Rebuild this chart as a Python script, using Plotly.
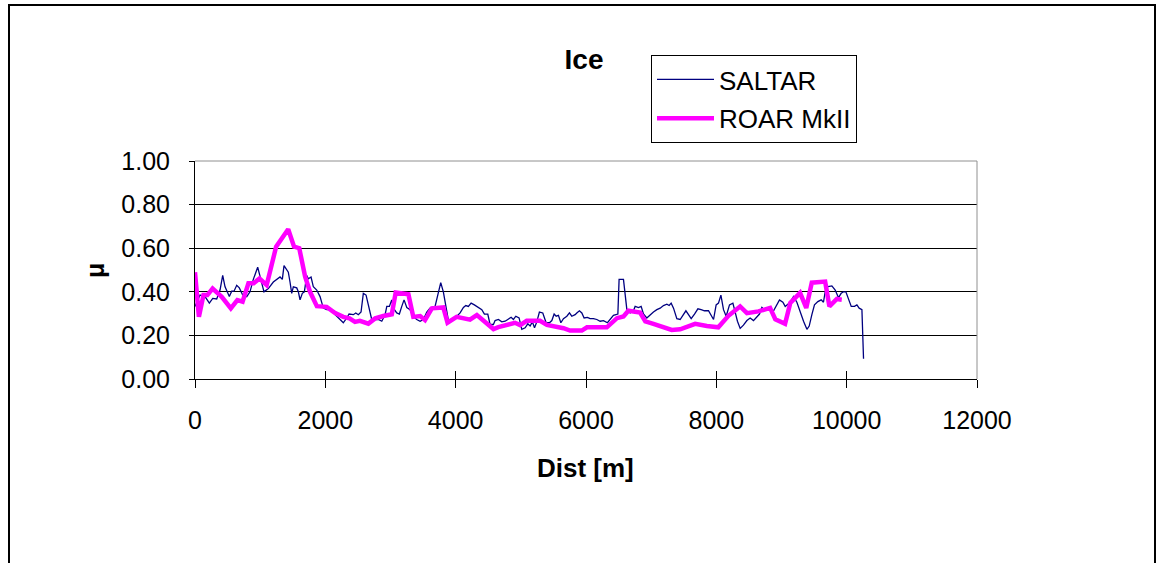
import plotly.graph_objects as go

# ---- data ----
saltar_x = [0, 77, 154, 220, 272, 333, 384, 425, 461, 527, 563, 599, 640, 680, 732, 794, 844, 895, 962, 998,
            1059, 1125, 1202, 1305, 1340, 1366, 1408, 1432, 1458, 1484, 1509, 1561, 1586, 1612, 1647, 1678, 1715,
            1739, 1781, 1816, 1868, 1919, 1969, 2022, 2098, 2149, 2226, 2276, 2329, 2364, 2430, 2467, 2507, 2548,
            2583, 2625, 2660, 2712, 2763, 2814, 2866, 2917, 2943, 2983, 3019, 3044, 3096, 3136, 3173, 3208, 3250,
            3300, 3342, 3403, 3454, 3504, 3557, 3607, 3684, 3735, 3771, 3811, 3853, 3888, 3940, 4017, 4068, 4119,
            4156, 4195, 4237, 4287, 4349, 4401, 4441, 4493, 4528, 4579, 4605, 4656, 4708, 4759, 4800, 4851, 4886,
            4923, 4973, 5015, 5066, 5107, 5142, 5177, 5210, 5245, 5285, 5337, 5388, 5439, 5476, 5511, 5542, 5577,
            5614, 5654, 5706, 5746, 5782, 5833, 5859, 5899, 5936, 5971, 6022, 6063, 6114, 6166, 6217, 6268, 6329,
            6370, 6421, 6489, 6508, 6575, 6627, 6677, 6728, 6754, 6805, 6846, 6882, 6933, 6984, 7035, 7087, 7138,
            7189, 7241, 7276, 7307, 7343, 7394, 7445, 7496, 7533, 7573, 7614, 7665, 7717, 7767, 7818, 7880, 7957,
            7997, 8033, 8070, 8110, 8151, 8202, 8254, 8289, 8324, 8366, 8416, 8469, 8519, 8570, 8622, 8662, 8699,
            8734, 8775, 8826, 8868, 8918, 8969, 9021, 9057, 9133, 9184, 9236, 9287, 9338, 9390, 9425, 9466, 9506,
            9558, 9609, 9644, 9670, 9696, 9773, 9824, 9875, 9916, 9951, 9988, 10028, 10070, 10120, 10157, 10192,
            10234, 10259]
saltar_mu = [0.333, 0.385, 0.378, 0.348, 0.370, 0.367, 0.408, 0.475, 0.423, 0.378, 0.403, 0.403, 0.430, 0.418,
             0.385, 0.378, 0.400, 0.457, 0.513, 0.475, 0.400, 0.415, 0.445, 0.468, 0.457, 0.520, 0.502, 0.490,
             0.445, 0.393, 0.423, 0.418, 0.400, 0.363, 0.393, 0.400, 0.475, 0.460, 0.468, 0.423, 0.408, 0.378,
             0.325, 0.318, 0.318, 0.295, 0.273, 0.258, 0.280, 0.298, 0.295, 0.303, 0.295, 0.307, 0.393, 0.385,
             0.340, 0.273, 0.273, 0.273, 0.265, 0.295, 0.333, 0.333, 0.363, 0.325, 0.303, 0.298, 0.333, 0.363,
             0.328, 0.318, 0.288, 0.273, 0.265, 0.273, 0.307, 0.325, 0.333, 0.393, 0.442, 0.400, 0.325, 0.270,
             0.265, 0.288, 0.303, 0.328, 0.337, 0.333, 0.348, 0.340, 0.328, 0.318, 0.298, 0.298, 0.250, 0.250,
             0.268, 0.273, 0.262, 0.265, 0.273, 0.283, 0.273, 0.288, 0.280, 0.228, 0.235, 0.253, 0.243, 0.262,
             0.235, 0.262, 0.307, 0.303, 0.258, 0.258, 0.268, 0.298, 0.288, 0.292, 0.258, 0.277, 0.288, 0.303,
             0.288, 0.295, 0.303, 0.313, 0.303, 0.280, 0.283, 0.277, 0.277, 0.273, 0.265, 0.268, 0.258, 0.273,
             0.292, 0.298, 0.457, 0.457, 0.318, 0.303, 0.313, 0.333, 0.328, 0.333, 0.298, 0.280, 0.295, 0.307,
             0.318, 0.325, 0.337, 0.343, 0.337, 0.348, 0.325, 0.277, 0.273, 0.295, 0.313, 0.295, 0.277, 0.298,
             0.322, 0.318, 0.313, 0.313, 0.273, 0.340, 0.348, 0.385, 0.318, 0.288, 0.340, 0.348, 0.303, 0.265,
             0.232, 0.247, 0.268, 0.280, 0.268, 0.288, 0.298, 0.328, 0.318, 0.325, 0.318, 0.307, 0.333, 0.363,
             0.352, 0.333, 0.352, 0.378, 0.352, 0.303, 0.265, 0.228, 0.243, 0.295, 0.340, 0.355, 0.363, 0.352,
             0.400, 0.423, 0.427, 0.408, 0.373, 0.393, 0.400, 0.400, 0.367, 0.333, 0.333, 0.340, 0.325, 0.318,
             0.093]

roar_x = [0, 60, 130, 190, 270, 410, 550, 650, 730, 820, 900, 990, 1100, 1245, 1430, 1520, 1600, 1690, 1765,
          1870, 2020, 2150, 2275, 2370, 2455, 2530, 2660, 2765, 2890, 3020, 3080, 3275, 3350, 3455, 3530, 3635,
          3810, 3875, 4015, 4145, 4220, 4325, 4580, 4655, 4810, 4910, 4990, 5090, 5295, 5400, 5655, 5755, 5935,
          6015, 6320, 6475, 6575, 6650, 6830, 6910, 7035, 7190, 7315, 7445, 7675, 7855, 8030, 8185, 8365, 8470,
          8645, 8825, 8905, 9055, 9135, 9285, 9380, 9465, 9670, 9735, 9850, 9925]
roar_mu = [0.490, 0.285, 0.385, 0.385, 0.415, 0.377, 0.324, 0.362, 0.355, 0.439, 0.439, 0.461, 0.431, 0.607,
           0.687, 0.607, 0.600, 0.469, 0.400, 0.334, 0.331, 0.303, 0.285, 0.278, 0.262, 0.267, 0.254, 0.278,
           0.289, 0.297, 0.397, 0.389, 0.285, 0.289, 0.270, 0.324, 0.328, 0.258, 0.285, 0.280, 0.272, 0.293,
           0.229, 0.238, 0.253, 0.258, 0.247, 0.267, 0.267, 0.248, 0.233, 0.222, 0.222, 0.237, 0.237, 0.279,
           0.287, 0.313, 0.305, 0.264, 0.253, 0.240, 0.225, 0.228, 0.253, 0.243, 0.237, 0.290, 0.333, 0.302,
           0.310, 0.326, 0.274, 0.253, 0.349, 0.395, 0.326, 0.442, 0.447, 0.333, 0.367, 0.364]

x_ticks = [0, 2000, 4000, 6000, 8000, 10000, 12000]
x_tick_labels = ["0", "2000", "4000", "6000", "8000", "10000", "12000"]
y_ticks = [0.0, 0.2, 0.4, 0.6, 0.8, 1.0]
y_tick_labels = ["0.00", "0.20", "0.40", "0.60", "0.80", "1.00"]

FONT = "Liberation Sans, Arial, sans-serif"
FS = 25

# plot area in page pixels (body margin removed via post_script)
L, T, PW, PH = 195, 161, 782, 218
W, H = 1160, 563


def px_x(p):
    return (p - L) / PW


def px_y(p):
    return (T + PH - p) / PH


fig = go.Figure()
fig.add_trace(go.Scatter(x=saltar_x, y=saltar_mu, mode="lines", name="SALTAR",
                         line=dict(color="#000080", width=1.3), legendgroup="a"))
fig.add_trace(go.Scatter(x=roar_x, y=roar_mu, mode="lines", name="ROAR MkII",
                         line=dict(color="#FF00FF", width=4.5), legendgroup="b"))
# helper trace for inner half of crossing x ticks
fig.add_trace(go.Scatter(x=[None], y=[None], xaxis="x2", showlegend=False, hoverinfo="skip"))

fig.update_layout(
    width=W, height=H,
    margin=dict(l=L, r=W - L - PW, t=T, b=H - T - PH),
    paper_bgcolor="white", plot_bgcolor="white",
    font=dict(family=FONT, size=FS, color="black"),
    showlegend=True,
    legend=dict(x=px_x(651), y=px_y(55), xanchor="left", yanchor="top",
                bordercolor="black", borderwidth=1, bgcolor="white",
                font=dict(size=26), itemwidth=57, tracegroupgap=2,
                traceorder="grouped"),
    title=dict(text="<b>Ice</b>", x=px_x(584), xref="paper", xanchor="center",
               y=1 - 59 / H, yref="container", yanchor="middle",
               font=dict(size=28, family=FONT)),
    xaxis=dict(range=[0, 12000], tickvals=x_ticks, ticktext=x_tick_labels,
               ticks="outside", ticklen=8, ticklabelstandoff=11,
               tickcolor="black", showline=True, linecolor="black", linewidth=1,
               showgrid=False, zeroline=False, tickfont=dict(size=FS)),
    xaxis2=dict(range=[0, 12000], overlaying="x", anchor="y", side="bottom",
                tickvals=x_ticks, ticks="inside", ticklen=8, tickcolor="black",
                showticklabels=False, showline=False, showgrid=False, zeroline=False),
    yaxis=dict(range=[0, 1.0], tickvals=y_ticks, ticktext=y_tick_labels,
               ticks="outside", ticklen=5, tickcolor="black", ticklabelstandoff=14,
               showline=True, linecolor="black", linewidth=1,
               showgrid=True, gridcolor="black", gridwidth=1, zeroline=False,
               tickfont=dict(size=FS)),
    annotations=[
        dict(text="<b>μ</b>", textangle=-90, xref="paper", yref="paper",
             x=px_x(95), y=px_y(271), showarrow=False,
             xanchor="center", yanchor="middle", font=dict(size=FS)),
        dict(text="<b>Dist [m]</b>", xref="paper", yref="paper",
             x=px_x(585), y=px_y(468), showarrow=False,
             xanchor="center", yanchor="middle", font=dict(size=26)),
    ],
    shapes=[
        # gray plot-area border (top and right)
        dict(type="line", xref="paper", yref="paper", x0=0, y0=1, x1=1, y1=1,
             line=dict(color="#909090", width=1), layer="above"),
        dict(type="line", xref="paper", yref="paper", x0=1, y0=0, x1=1, y1=1,
             line=dict(color="#909090", width=1), layer="above"),
        # outer chart frame (open at the bottom, beyond the page)
        dict(type="rect", xref="paper", yref="paper",
             x0=px_x(9), x1=px_x(1155), y0=px_y(600), y1=px_y(5),
             line=dict(color="black", width=2), layer="above"),
    ],
)

fig.write_html("out.html", config={"displayModeBar": False},
               post_script="document.body.style.margin='0px';")
